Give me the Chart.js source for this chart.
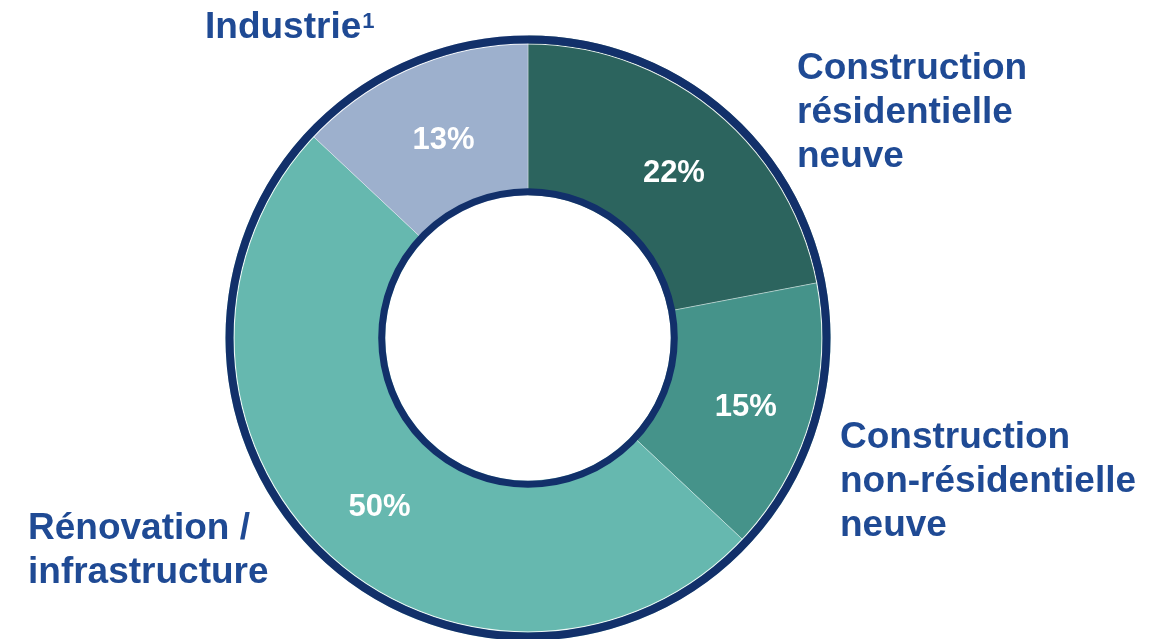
<!DOCTYPE html>
<html>
<head>
<meta charset="utf-8">
<script src="https://cdn.jsdelivr.net/npm/chart.js@4/dist/chart.umd.min.js"></script>
<style>
  html, body { margin: 0; padding: 0; background: #ffffff; overflow: hidden; }
  #wrap { position: relative; width: 1155px; height: 645px; }
</style>
</head>
<body>
<div id="wrap"><canvas id="c"></canvas></div>
<script>
// ---- data ----
const categories = [
  'Construction résidentielle neuve',
  'Construction non-résidentielle neuve',
  'Rénovation / infrastructure',
  'Industrie'
];
const shares = [22, 15, 50, 13];
const labelLines = [
  ['Construction', 'résidentielle', 'neuve'],
  ['Construction', 'non-résidentielle', 'neuve'],
  ['Rénovation /', 'infrastructure'],
  ['Industrie']
];
const footnoteMarks = ['', '', '', '1'];

// ---- styles ----
const sliceColors = ['#2C645E', '#45938A', '#66B8AF', '#9DB0CD'];
const navy = '#12306A';
const labelBlue = '#1F4A94';
const FONT = '"Liberation Sans", Arial, Helvetica, sans-serif';
// label anchor offsets relative to the doughnut centre (left x, first baseline)
const labelOffsets = [[269, -259], [312, 110], [-500, 201], [-323, -300]];
const lineGap = 44;
const pctNudge = [4, 7];

const ringPlugin = {
  id: 'rings',
  afterDatasetsDraw(chart) {
    const ctx = chart.ctx;
    const arcs = chart.getDatasetMeta(0).data;
    if (!arcs.length) return;
    const a0 = arcs[0];
    const cx = a0.x, cy = a0.y, R = a0.outerRadius, r = a0.innerRadius;
    ctx.save();
    // thin white line inside outer border
    ctx.strokeStyle = 'rgba(255,255,255,0.9)';
    ctx.lineWidth = 1.2;
    ctx.beginPath(); ctx.arc(cx, cy, R - 8.5, 0, Math.PI * 2); ctx.stroke();
    ctx.strokeStyle = navy;
    ctx.lineWidth = 8;
    ctx.beginPath(); ctx.arc(cx, cy, R - 4, 0, Math.PI * 2); ctx.stroke();
    ctx.lineWidth = 7;
    ctx.beginPath(); ctx.arc(cx, cy, r + 3.5, 0, Math.PI * 2); ctx.stroke();

    // percentage labels
    ctx.fillStyle = '#ffffff';
    ctx.font = 'bold 31px ' + FONT;
    ctx.textAlign = 'center';
    ctx.textBaseline = 'middle';
    arcs.forEach((arc, i) => {
      const p = arc.tooltipPosition();
      ctx.fillText(shares[i] + '%', p.x + pctNudge[0], p.y + pctNudge[1]);
    });

    // category labels
    ctx.fillStyle = labelBlue;
    ctx.textAlign = 'left';
    ctx.textBaseline = 'alphabetic';
    labelLines.forEach((lines, i) => {
      const [dx, dy] = labelOffsets[i];
      ctx.font = 'bold 37px ' + FONT;
      lines.forEach((ln, j) => {
        ctx.fillText(ln, cx + dx, cy + dy + j * lineGap);
      });
      if (footnoteMarks[i]) {
        const w = ctx.measureText(lines[lines.length - 1]).width;
        ctx.font = 'bold 22px ' + FONT;
        ctx.fillText(footnoteMarks[i], cx + dx + w + 1, cy + dy + (lines.length - 1) * lineGap - 10);
      }
    });
    ctx.restore();
  }
};

new Chart(document.getElementById('c'), {
  type: 'doughnut',
  data: {
    labels: categories,
    datasets: [{
      data: shares,
      backgroundColor: sliceColors,
      borderColor: 'rgba(255,255,255,0.35)',
      borderWidth: 1,
      hoverOffset: 0,
      offset: 0
    }]
  },
  options: {
    responsive: true,
    maintainAspectRatio: false,
    animation: false,
    cutout: '47.2%',
    rotation: 0,
    layout: { padding: { top: 35, bottom: 4, left: 0, right: 99 } },
    plugins: {
      legend: { display: false },
      tooltip: { enabled: false }
    },
    events: []
  },
  plugins: [ringPlugin]
});
</script>
</body>
</html>
